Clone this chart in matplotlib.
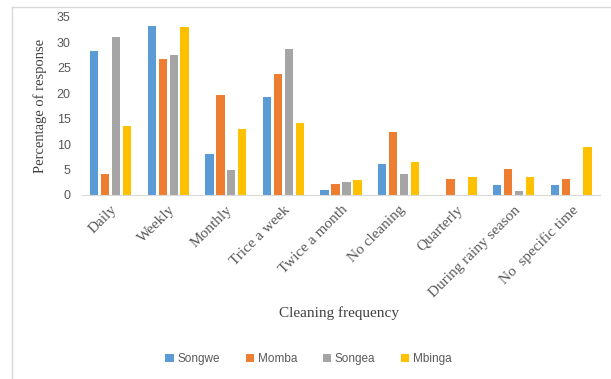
import matplotlib
matplotlib.use("Agg")
import matplotlib.pyplot as plt
import numpy as np
from matplotlib.lines import Line2D

categories = ["Daily", "Weekly", "Monthly", "Trice a week", "Twice a month",
              "No cleaning", "Quarterly", "During rainy season", "No  specific time"]
songwe = [28.2, 33.3, 8.0, 19.2, 1.0, 6.1, 0.0, 2.0, 2.0]
momba = [4.1, 26.8, 19.6, 23.7, 2.1, 12.4, 3.1, 5.1, 3.1]
songea = [31.1, 27.6, 4.9, 28.6, 2.5, 4.1, 0.0, 0.8, 0.0]
mbinga = [13.5, 33.1, 12.9, 14.1, 2.9, 6.5, 3.5, 3.5, 9.4]

series = [("Songwe", songwe, "#5B9BD5"), ("Momba", momba, "#ED7D31"),
          ("Songea", songea, "#A5A5A5"), ("Mbinga", mbinga, "#FFC000")]

fig = plt.figure(figsize=(6.11, 3.79), dpi=100)
ax = fig.add_axes([0.134, 0.4855, 0.848, 0.47])

x = np.arange(len(categories))
w = 0.145
step = 0.19
for i, (name, vals, col) in enumerate(series):
    ax.bar(x + (i - 1.5) * step, vals, width=w, color=col, label=name)

ax.set_xlim(-0.5, len(categories) - 0.5)
ax.set_ylim(0, 35)
ax.set_yticks(range(0, 36, 5))
for s in ["top", "right", "left"]:
    ax.spines[s].set_visible(False)
ax.spines["bottom"].set_color("#D9D9D9")
ax.tick_params(axis="y", length=0, labelsize=9, labelcolor="#595959", pad=8)
ax.tick_params(axis="x", length=0, pad=6)
for lab in ax.get_yticklabels():
    lab.set_family("Liberation Sans")
ax.set_xticks(x)
ax.set_xticklabels(categories, rotation=45, ha="right", rotation_mode="anchor",
                   family="Liberation Serif", fontsize=11, color="#595959")

ax.set_ylabel("Percentage of response", family="Liberation Serif", fontsize=10.5,
              color="#404040", labelpad=7)
fig.text(0.555, 0.175, "Cleaning frequency", ha="center", va="center",
         family="Liberation Serif", fontsize=11, color="#404040")

leg = fig.legend(loc="center", bbox_to_anchor=(0.505, 0.053), ncol=4, frameon=False,
                 prop={"family": "Liberation Sans", "size": 8.5},
                 handlelength=0.7, handleheight=0.7, handletextpad=0.3, columnspacing=2.2)
for t in leg.get_texts():
    t.set_color("#595959")

# outer chart frame (only top and left visible)
fig.add_artist(Line2D([12 / 611, 12 / 611], [0, 1 - 7 / 379], color="#D9D9D9", lw=1))
fig.add_artist(Line2D([12 / 611, 1], [1 - 7 / 379, 1 - 7 / 379], color="#D9D9D9", lw=1))

fig.savefig("out.png", dpi=100)
